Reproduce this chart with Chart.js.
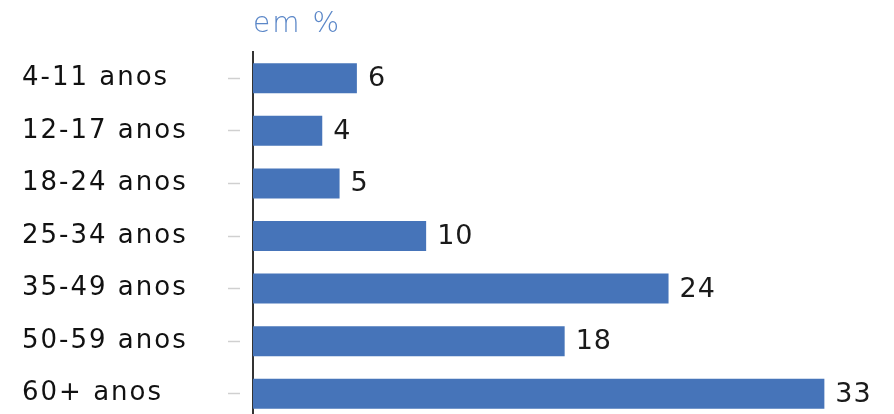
<!DOCTYPE html>
<html>
<head>
<meta charset="utf-8">
<script src="https://cdn.jsdelivr.net/npm/chart.js@4"></script>
<style>
  html, body { margin: 0; padding: 0; background: #fff; overflow: hidden; }
</style>
</head>
<body>
<canvas id="ageChart" width="894" height="420"></canvas>
<script>
// Age groups and their share (in %)
const ageGroups = ['4-11 anos', '12-17 anos', '18-24 anos', '25-34 anos', '35-49 anos', '50-59 anos', '60+ anos'];
const shares = [6, 4, 5, 10, 24, 18, 33];
const unitLabel = 'em %';

const FONT = "'DejaVu Sans', sans-serif";

// Writes the value just past the end of each bar
const valueLabels = {
  id: 'valueLabels',
  afterDatasetsDraw(chart) {
    const ctx = chart.ctx;
    const meta = chart.getDatasetMeta(0);
    ctx.save();
    ctx.letterSpacing = '1px';
    ctx.font = '27px ' + FONT;
    ctx.fillStyle = '#1a1a1a';
    ctx.textAlign = 'left';
    ctx.textBaseline = 'middle';
    meta.data.forEach((bar, i) => {
      ctx.fillText(String(shares[i]), bar.x + 11, bar.y + 1);
    });
    ctx.restore();
  }
};

// A little extra spacing makes the fallback font look closer to a wide geometric face
const spacing = {
  id: 'spacing',
  beforeLayout(chart) { chart.ctx.letterSpacing = '2px'; },
  beforeDraw(chart) { chart.ctx.letterSpacing = '2px'; }
};

const ctx = document.getElementById('ageChart').getContext('2d');
const ageChart = new Chart(ctx, {
  type: 'bar',
  data: {
    labels: ageGroups,
    datasets: [{
      data: shares,
      backgroundColor: '#4674b9',
      barPercentage: 0.57,
      categoryPercentage: 1
    }]
  },
  options: {
    indexAxis: 'y',
    responsive: false,
    animation: false,
    layout: { padding: { left: 22, right: 35, top: 0, bottom: 0 } },
    plugins: {
      legend: { display: false },
      tooltip: { enabled: false }
    },
    scales: {
      x: {
        position: 'top',
        min: 0,
        max: 35,
        ticks: { display: false },
        grid: { display: false },
        border: { display: false },
        title: {
          display: true,
          text: unitLabel,
          align: 'start',
          color: '#5b87c8',
          font: { family: FONT, size: 28, weight: '300' },
          padding: { top: 8, bottom: 0 }
        },
        afterFit(scale) { scale.height = 52; }
      },
      y: {
        ticks: {
          crossAlign: 'far',
          color: '#111',
          padding: 0,
          font: { family: FONT, size: 26 }
        },
        grid: {
          offset: false,
          drawOnChartArea: false,
          tickLength: 25,
          tickColor: '#d0d0d0',
          tickWidth: 1.5,
          tickBorderDash: [12, 30]
        },
        border: { color: '#333', width: 2 },
        afterFit(scale) {
          scale.width = 231;
          // let the bottom category run to the canvas edge
          scale.paddingTop = 0;
          scale.paddingBottom = 0;
        }
      }
    }
  },
  plugins: [spacing, valueLabels]
});
</script>
</body>
</html>
